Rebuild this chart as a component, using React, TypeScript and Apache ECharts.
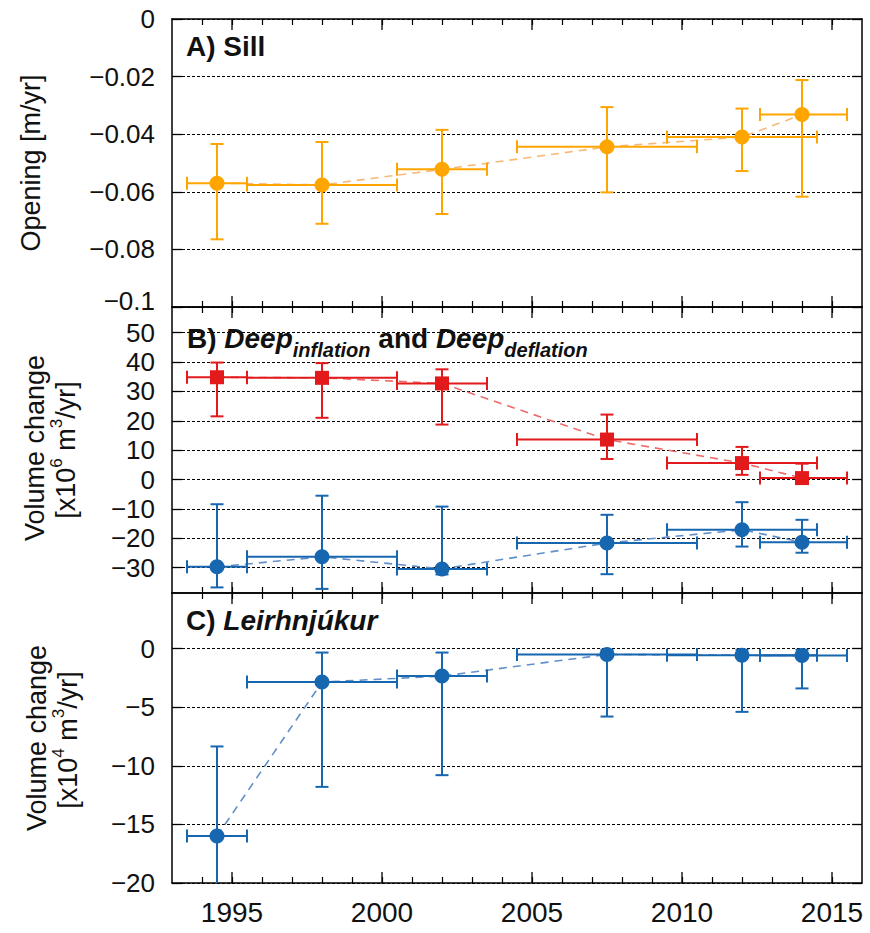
import React, { useEffect, useRef } from 'react';
import * as echarts from 'echarts';

// ---------- data ----------
const periodMid = [1994.5, 1998, 2002, 2007.5, 2012, 2014];
const periodStart = [1993.5, 1995.5, 2000.5, 2004.5, 2009.5, 2012.6];
const periodEnd = [1995.5, 2000.5, 2003.5, 2010.5, 2014.5, 2015.5];

const sillOpening = [-0.057, -0.0576, -0.0522, -0.0444, -0.041, -0.0332];
const sillLow = [-0.0765, -0.0711, -0.0677, -0.0602, -0.0528, -0.0617];
const sillHigh = [-0.0434, -0.0427, -0.0385, -0.0306, -0.0311, -0.0212];

const deepInflation = [34.8, 34.6, 32.7, 13.6, 5.6, 0.5];
const deepInflationLow = [21.5, 21.0, 18.7, 7.0, 1.6, -1.1];
const deepInflationHigh = [39.8, 39.6, 37.5, 22.1, 11.1, 5.4];

const deepDeflation = [-29.7, -26.3, -30.4, -21.6, -17.1, -21.3];
const deepDeflationLow = [-36.7, -37.2, -32.3, -32.2, -22.8, -24.9];
const deepDeflationHigh = [-8.4, -5.5, -9.2, -12.0, -7.7, -13.7];

const leirhnjukur = [-16.0, -2.86, -2.35, -0.5, -0.57, -0.6];
const leirhnjukurLow = [-22.0, -11.8, -10.8, -5.8, -5.4, -3.4];
const leirhnjukurHigh = [-8.35, -0.34, -0.34, -0.1, -0.1, -0.1];

const yearTicks = [1995, 2000, 2005, 2010, 2015];
const yearMinorTicks = [1994, 1995, 1996, 1997, 1998, 1999, 2000, 2001, 2002, 2003, 2004, 2005, 2006, 2007, 2008, 2009, 2010, 2011, 2012, 2013, 2014, 2015];
const sillTicks = [-0.1, -0.08, -0.06, -0.04, -0.02, 0];
const deepTicks = [-30, -20, -10, 0, 10, 20, 30, 40, 50];
const leirTicks = [-20, -15, -10, -5, 0];

// ---------- style ----------
const FONT = '"Liberation Sans", Arial, Helvetica, sans-serif';
const ORANGE = '#ffa500';
const ORANGE_LIGHT = '#f7b978';
const RED = '#e31a1c';
const RED_LIGHT = '#ee6b6b';
const BLUE = '#1766b0';
const BLUE_LIGHT = '#6190c9';

const grids = [
  { left: 172, top: 19, width: 690, height: 288 },
  { left: 172, top: 307, width: 690, height: 286 },
  { left: 172, top: 593, width: 690, height: 290 },
];
const yRanges = [
  { min: -0.1, max: 0, ticks: sillTicks },
  { min: -38.6, max: 58.7, ticks: deepTicks },
  { min: -20, max: 4.74, ticks: leirTicks },
];

const fmtNeg = (v: number) => (v < 0 ? '\u2212' + String(Math.abs(v)) : String(v));
const fmtSill = (v: number) => (v <= -0.0999 ? '{up|' + fmtNeg(v) + '}' : fmtNeg(v));

function errorBarRender(color: string) {
  return (params: any, api: any) => {
    const x = api.value(0);
    const y = api.value(1);
    const l = api.coord([api.value(2), y]);
    const r = api.coord([api.value(3), y]);
    const b = api.coord([x, api.value(4)]);
    const t = api.coord([x, api.value(5)]);
    const cap = 6.5;
    const style = { stroke: color, lineWidth: 2, fill: null };
    return {
      type: 'group',
      children: [
        { type: 'line', shape: { x1: l[0], y1: l[1], x2: r[0], y2: r[1] }, style },
        { type: 'line', shape: { x1: l[0], y1: l[1] - cap, x2: l[0], y2: l[1] + cap }, style },
        { type: 'line', shape: { x1: r[0], y1: r[1] - cap, x2: r[0], y2: r[1] + cap }, style },
        { type: 'line', shape: { x1: b[0], y1: b[1], x2: t[0], y2: t[1] }, style },
        { type: 'line', shape: { x1: b[0] - cap, y1: b[1], x2: b[0] + cap, y2: b[1] }, style },
        { type: 'line', shape: { x1: t[0] - cap, y1: t[1], x2: t[0] + cap, y2: t[1] }, style },
      ],
    };
  };
}

function majorTickRender(params: any, api: any) {
  const cs = params.coordSys;
  const p = api.coord([api.value(0), 0]);
  const len = 11;
  const style = { stroke: '#000', lineWidth: 1.3 };
  return {
    type: 'group',
    children: [
      { type: 'line', shape: { x1: p[0], y1: cs.y + cs.height, x2: p[0], y2: cs.y + cs.height - len }, style },
      { type: 'line', shape: { x1: p[0], y1: cs.y, x2: p[0], y2: cs.y + len }, style },
    ],
  };
}

function seriesFor(g: number, name: string, vals: number[], lo: number[], hi: number[], color: string, light: string, symbol: string, size: number) {
  const ax = { xAxisIndex: g * 2, yAxisIndex: g * 2 };
  return [
    {
      type: 'line', name: name + '-trend', ...ax,
      data: periodMid.map((x, i) => [x, vals[i]]),
      symbol: 'none', showSymbol: false, silent: true, z: 2,
      lineStyle: { color: light, width: 1.6, type: [8, 6] },
    },
    {
      type: 'custom', name: name + '-err', ...ax, clip: true, silent: true, z: 3,
      renderItem: errorBarRender(color),
      encode: { x: [0, 2, 3], y: [1, 4, 5] },
      data: periodMid.map((x, i) => [x, vals[i], periodStart[i], periodEnd[i], lo[i], hi[i]]),
    },
    {
      type: 'scatter', name, ...ax, silent: true, z: 4,
      symbol, symbolSize: size,
      itemStyle: { color, opacity: 1 },
      data: periodMid.map((x, i) => [x, vals[i]]),
    },
  ];
}

export default function App() {
  const ref = useRef<HTMLDivElement>(null);
  useEffect(() => {
    document.body.style.margin = '0';
    if (!ref.current) return;
    const chart = echarts.init(ref.current, undefined, { renderer: 'svg' });

    const xAxis: any[] = [];
    const yAxis: any[] = [];
    grids.forEach((_, g) => {
      ['bottom', 'top'].forEach((pos) => {
        const showLabel = g === 2 && pos === 'bottom';
        xAxis.push({
          type: 'value', gridIndex: g, min: 1993, max: 2016, position: pos,
          axisLine: { show: true, onZero: false, lineStyle: { color: '#000', width: 1.5 } },
          axisTick: { show: true, inside: true, length: 6, customValues: yearMinorTicks, lineStyle: { color: '#000', width: 1.2 } },
          axisLabel: {
            show: showLabel, customValues: yearTicks, margin: 15,
            fontSize: 28, fontFamily: FONT, color: '#111',
            formatter: (v: number) => String(v),
          },
          splitLine: { show: false },
        });
      });
      const yr = yRanges[g];
      ['left', 'right'].forEach((pos) => {
        yAxis.push({
          type: 'value', gridIndex: g, min: yr.min, max: yr.max, position: pos,
          axisLine: { show: true, onZero: false, lineStyle: { color: '#000', width: 1.5 } },
          axisTick: { show: true, inside: true, length: 10, customValues: yr.ticks, lineStyle: { color: '#000', width: 1.3 } },
          axisLabel: {
            show: pos === 'left', customValues: yr.ticks, margin: 17,
            fontSize: 26, lineHeight: 20, fontFamily: FONT, color: '#111',
            formatter: g === 0 ? fmtSill : fmtNeg,
            rich: {
              up: { fontSize: 26, lineHeight: 20, fontFamily: FONT, color: '#111', padding: [0, 0, 12, 0] },
            },
          },
          splitLine: {
            show: pos === 'left',
            lineStyle: { color: '#000', width: 1.1, type: [3, 2] },
          },
        });
      });
    });

    const series: any[] = [
      ...seriesFor(0, 'Sill', sillOpening, sillLow, sillHigh, ORANGE, ORANGE_LIGHT, 'circle', 15),
      ...seriesFor(1, 'Deep inflation', deepInflation, deepInflationLow, deepInflationHigh, RED, RED_LIGHT, 'rect', 14),
      ...seriesFor(1, 'Deep deflation', deepDeflation, deepDeflationLow, deepDeflationHigh, BLUE, BLUE_LIGHT, 'circle', 15),
      ...seriesFor(2, 'Leirhnjukur', leirhnjukur, leirhnjukurLow, leirhnjukurHigh, BLUE, BLUE_LIGHT, 'circle', 15),
    ];
    grids.forEach((_, g) => {
      series.push({
        type: 'custom', name: 'major-ticks-' + g, xAxisIndex: g * 2, yAxisIndex: g * 2,
        silent: true, z: 5, renderItem: majorTickRender,
        encode: { x: 0 },
        data: yearTicks.map((y) => [y]),
      });
    });

    const titleBase = { fontSize: 28, fontWeight: 'bold', fontFamily: FONT, fill: '#111' };
    const labelFont = { fontSize: 27, fontFamily: FONT, fill: '#111' };

    const graphic: any[] = [
      {
        type: 'text', left: 186, top: 32, z: 10,
        style: { text: 'A) Sill', font: `bold 28px ${FONT}`, fill: '#111' },
      },
      {
        type: 'text', x: 187, y: 316, z: 10,
        style: {
          text: '{n|B) }{i|Deep}{s|inflation}{n| and }{i|Deep}{s|deflation}',
          fill: '#111',
          rich: {
            n: { ...titleBase, lineHeight: 44, fill: '#111' },
            i: { ...titleBase, fontStyle: 'italic', lineHeight: 44, fill: '#111' },
            s: { fontSize: 20, fontWeight: 'bold', fontStyle: 'italic', fontFamily: FONT, fill: '#111', verticalAlign: 'bottom', lineHeight: 22 },
          },
        },
      },
      {
        type: 'text', x: 186, y: 606, z: 10,
        style: {
          text: '{n|C) }{i|Leirhnjúkur}',
          fill: '#111',
          rich: {
            n: { ...titleBase, fill: '#111' },
            i: { ...titleBase, fontStyle: 'italic', fill: '#111' },
          },
        },
      },
      // y-axis names
      {
        type: 'text', x: 31, y: 163, rotation: Math.PI / 2, z: 10,
        style: { text: 'Opening [m/yr]', ...labelFont, align: 'center', verticalAlign: 'middle' },
      },
      {
        type: 'text', x: 35, y: 448, rotation: Math.PI / 2, z: 10,
        style: { text: 'Volume change', ...labelFont, align: 'center', verticalAlign: 'middle' },
      },
      {
        type: 'text', x: 66, y: 450, rotation: Math.PI / 2, z: 10,
        style: {
          text: '{m|[x10}{p|6}{m| m}{p|3}{m|/yr]}',
          align: 'center', verticalAlign: 'middle', fill: '#111',
          rich: {
            m: { ...labelFont, lineHeight: 36 },
            p: { fontSize: 17, fontFamily: FONT, fill: '#111', verticalAlign: 'top', lineHeight: 17 },
          },
        },
      },
      {
        type: 'text', x: 37, y: 738, rotation: Math.PI / 2, z: 10,
        style: { text: 'Volume change', ...labelFont, align: 'center', verticalAlign: 'middle' },
      },
      {
        type: 'text', x: 68, y: 740, rotation: Math.PI / 2, z: 10,
        style: {
          text: '{m|[x10}{p|4}{m| m}{p|3}{m|/yr]}',
          align: 'center', verticalAlign: 'middle', fill: '#111',
          rich: {
            m: { ...labelFont, lineHeight: 36 },
            p: { fontSize: 17, fontFamily: FONT, fill: '#111', verticalAlign: 'top', lineHeight: 17 },
          },
        },
      },
    ];

    chart.setOption({
      animation: false,
      backgroundColor: '#fff',
      grid: grids.map((gr) => ({ ...gr, show: false, containLabel: false, outerBoundsMode: 'none' })),
      xAxis,
      yAxis,
      series,
      graphic,
    });
    return () => chart.dispose();
  }, []);
  return <div ref={ref} style={{ width: 870, height: 933 }} />;
}
